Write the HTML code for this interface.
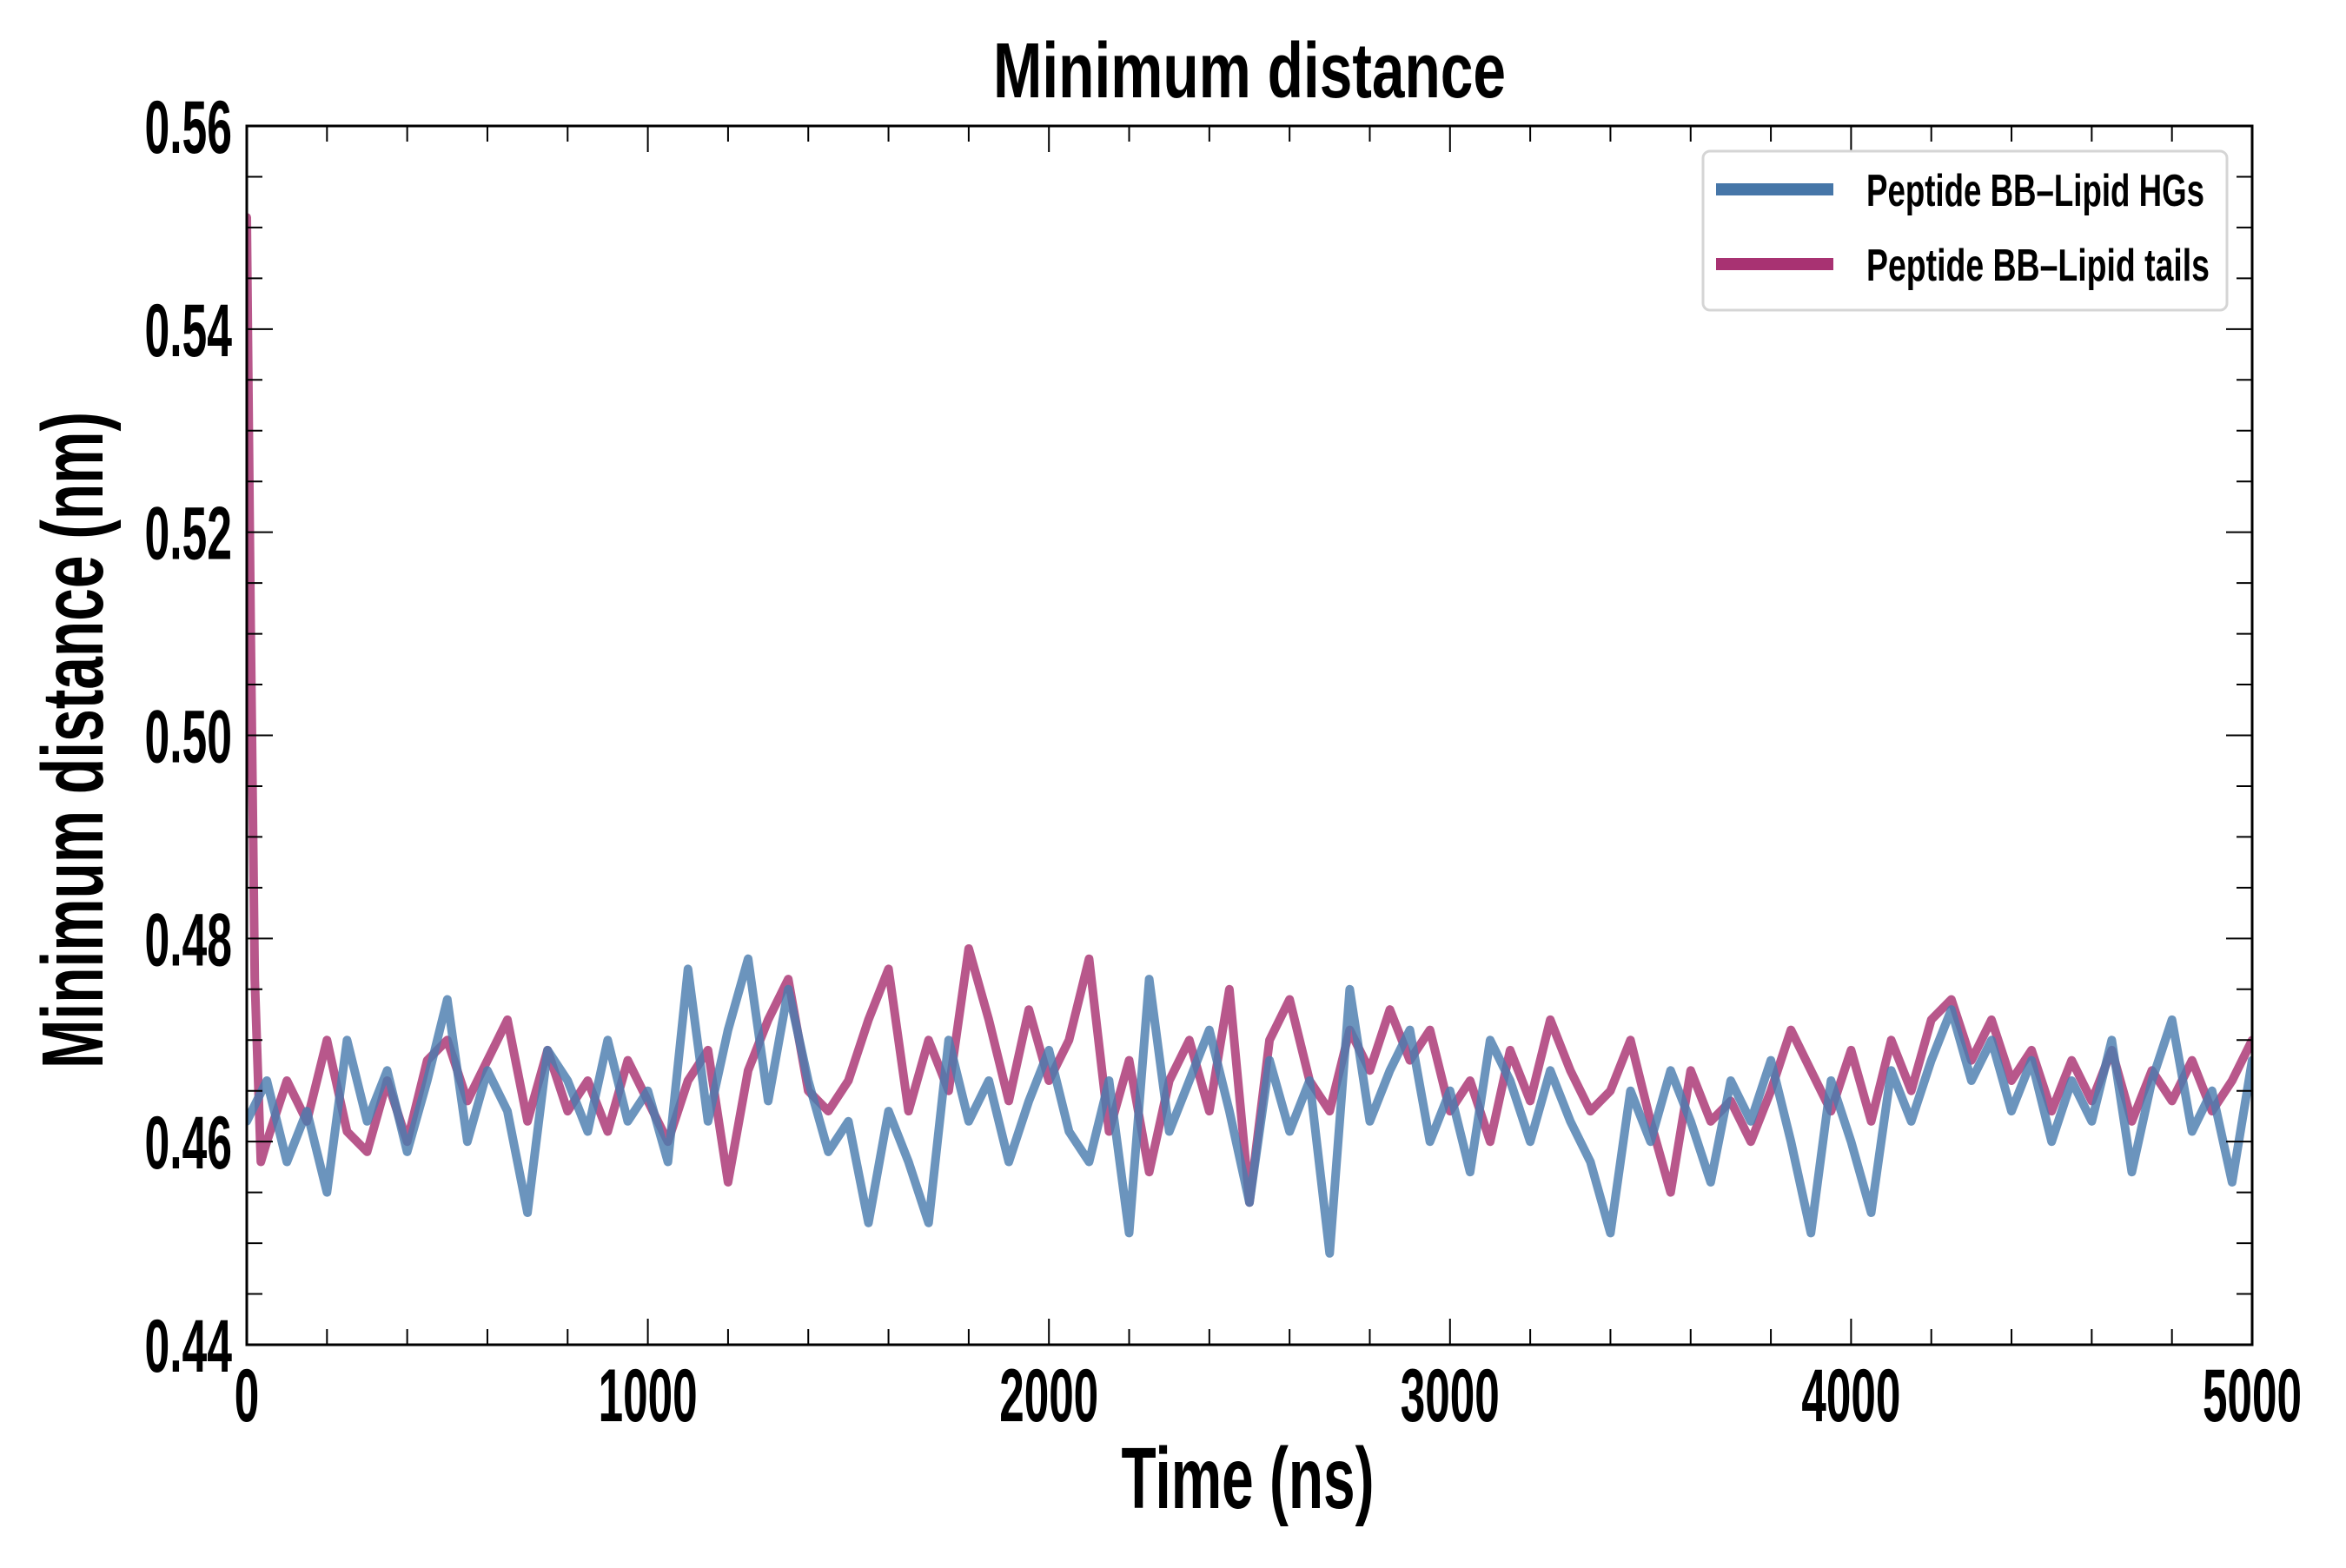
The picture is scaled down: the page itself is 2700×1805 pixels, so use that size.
<!DOCTYPE html>
<html><head><meta charset="utf-8"><style>
html,body{margin:0;padding:0;background:#fff;}
svg text{font-family:"Liberation Sans",sans-serif;font-weight:bold;fill:#000;}
</style></head><body>
<svg id="chart" width="2700" height="1800" viewBox="0 0 2700 1800" xmlns="http://www.w3.org/2000/svg">
<rect width="2700" height="1800" fill="#fff"/>
<g id="plot"></g>
<text x="1438" y="112" font-size="90" text-anchor="middle" textLength="590" lengthAdjust="spacingAndGlyphs">Minimum distance</text>
<text x="1436" y="1736" font-size="100" text-anchor="middle" textLength="291" lengthAdjust="spacingAndGlyphs">Time (ns)</text>
<text transform="translate(118,852) rotate(-90)" font-size="100" text-anchor="middle" textLength="756" lengthAdjust="spacingAndGlyphs">Minimum distance (nm)</text>
<g>
<rect x="1960" y="174" width="603" height="183" rx="8" fill="#fff" stroke="#d5d5d5" stroke-width="3"/>
<g>
<line x1="1975" y1="218" x2="2110" y2="218" stroke="#4676a8" stroke-width="14"/>
<text x="2148" y="237" font-size="52" textLength="389" lengthAdjust="spacingAndGlyphs">Peptide BB–Lipid HGs</text>
</g>
<g>
<line x1="1975" y1="304" x2="2110" y2="304" stroke="#a83272" stroke-width="14"/>
<text x="2148" y="323" font-size="52" textLength="395" lengthAdjust="spacingAndGlyphs">Peptide BB–Lipid tails</text>
</g>
</g>
</svg>
<script>
const xTicks=[0,1000,2000,3000,4000,5000];
const xTickLabels=["0","1000","2000","3000","4000","5000"];
const yTicks=[0.44,0.46,0.48,0.50,0.52,0.54,0.56];
const yTickLabels=["0.44","0.46","0.48","0.50","0.52","0.54","0.56"];
const hgTimes=[0,50,100,150,200,250,300,350,400,450,500,550,600,650,700,750,800,850,900,950,1000,1050,1100,1150,1200,1250,1300,1350,1400,1450,1500,1550,1600,1650,1700,1750,1800,1850,1900,1950,2000,2050,2100,2150,2200,2250,2300,2350,2400,2450,2500,2550,2600,2650,2700,2750,2800,2850,2900,2950,3000,3050,3100,3150,3200,3250,3300,3350,3400,3450,3500,3550,3600,3650,3700,3750,3800,3850,3900,3950,4000,4050,4100,4150,4200,4250,4300,4350,4400,4450,4500,4550,4600,4650,4700,4750,4800,4850,4900,4950,5000];
const hgValues=[0.462,0.466,0.458,0.463,0.455,0.470,0.462,0.467,0.459,0.466,0.474,0.460,0.467,0.463,0.453,0.469,0.466,0.461,0.470,0.462,0.465,0.458,0.477,0.462,0.471,0.478,0.464,0.475,0.466,0.459,0.462,0.452,0.463,0.458,0.452,0.470,0.462,0.466,0.458,0.464,0.469,0.461,0.458,0.466,0.451,0.476,0.461,0.466,0.471,0.463,0.454,0.468,0.461,0.466,0.449,0.475,0.462,0.467,0.471,0.460,0.465,0.457,0.470,0.466,0.460,0.467,0.462,0.458,0.451,0.465,0.460,0.467,0.462,0.456,0.466,0.462,0.468,0.460,0.451,0.466,0.460,0.453,0.467,0.462,0.468,0.473,0.466,0.470,0.463,0.468,0.460,0.466,0.462,0.470,0.457,0.466,0.472,0.461,0.465,0.456,0.468];
const tailTimes=[0,10,20,35,50,100,150,200,250,300,350,400,450,500,550,600,650,700,750,800,850,900,950,1000,1050,1100,1150,1200,1250,1300,1350,1400,1450,1500,1550,1600,1650,1700,1750,1800,1850,1900,1950,2000,2050,2100,2150,2200,2250,2300,2350,2400,2450,2500,2550,2600,2650,2700,2750,2800,2850,2900,2950,3000,3050,3100,3150,3200,3250,3300,3350,3400,3450,3500,3550,3600,3650,3700,3750,3800,3850,3900,3950,4000,4050,4100,4150,4200,4250,4300,4350,4400,4450,4500,4550,4600,4650,4700,4750,4800,4850,4900,4950,5000];
const tailValues=[0.551,0.510,0.476,0.458,0.460,0.466,0.462,0.470,0.461,0.459,0.466,0.460,0.468,0.470,0.464,0.468,0.472,0.462,0.469,0.463,0.466,0.461,0.468,0.464,0.460,0.466,0.469,0.456,0.467,0.472,0.476,0.465,0.463,0.466,0.472,0.477,0.463,0.470,0.465,0.479,0.472,0.464,0.473,0.466,0.470,0.478,0.461,0.468,0.457,0.466,0.470,0.463,0.475,0.454,0.470,0.474,0.466,0.463,0.471,0.467,0.473,0.468,0.471,0.463,0.466,0.460,0.469,0.464,0.472,0.467,0.463,0.465,0.470,0.462,0.455,0.467,0.462,0.464,0.460,0.465,0.471,0.467,0.463,0.469,0.462,0.470,0.465,0.472,0.474,0.468,0.472,0.466,0.469,0.463,0.468,0.464,0.469,0.462,0.467,0.464,0.468,0.463,0.466,0.470];

const L=284,R=2592,T=145,B=1548;
const xS=t=>L+(t-0)/(5000-0)*(R-L);
const yS=v=>B-(v-0.44)/(0.56-0.44)*(B-T);
const NS="http://www.w3.org/2000/svg";
const plot=document.getElementById('plot');
function mk(tag,attrs){const e=document.createElementNS(NS,tag);for(const k in attrs)e.setAttribute(k,attrs[k]);return e;}
function labelWidth(s){let w=0;for(const c of s)w+=(c==='.')?15:28.5;return w;}

const clip=mk('clipPath',{id:'clp'});clip.appendChild(mk('rect',{x:L,y:T,width:R-L,height:B-T}));plot.appendChild(clip);
const g=mk('g',{'clip-path':'url(#clp)'});
plot.appendChild(g);
function seriesG(times,vals,color,name){
  const d=times.map((t,i)=>(i?'L':'M')+xS(t).toFixed(1)+','+yS(vals[i]).toFixed(1)).join('');
  const p=mk('path',{d:d,fill:'none',stroke:color,'stroke-width':10,'stroke-linejoin':'round','stroke-linecap':'round',opacity:0.82});
  
  
  g.appendChild(p);
}
seriesG(tailTimes,tailValues,'#a83272','line-lipid-tails');
seriesG(hgTimes,hgValues,'#4a7cae','line-lipid-hgs');

const fr=mk('rect',{x:L,y:T,width:R-L,height:B-T,fill:'none',stroke:'#000','stroke-width':3});


plot.appendChild(fr);

for(let t=0;t<=5000;t+=200){
  const major=t%1000===0;const len=major?30:18;const x=xS(t);
  plot.appendChild(mk('line',{x1:x,y1:B,x2:x,y2:B-len,stroke:'#000','stroke-width':2}));
  plot.appendChild(mk('line',{x1:x,y1:T,x2:x,y2:T+len,stroke:'#000','stroke-width':2}));
}
for(let k=0;k<=24;k++){
  const v=0.44+k*0.005;const major=k%4===0;const len=major?30:18;const y=yS(v);
  plot.appendChild(mk('line',{x1:L,y1:y,x2:L+len,y2:y,stroke:'#000','stroke-width':2}));
  plot.appendChild(mk('line',{x1:R,y1:y,x2:R-len,y2:y,stroke:'#000','stroke-width':2}));
}
xTicks.forEach((t,i)=>{
  const tx=mk('text',{x:xS(t),y:1636,'font-size':86,'text-anchor':'middle',textLength:labelWidth(xTickLabels[i]),lengthAdjust:'spacingAndGlyphs'});
  tx.textContent=xTickLabels[i];
  
  
  plot.appendChild(tx);
});
yTicks.forEach((v,i)=>{
  const tx=mk('text',{x:267,y:yS(v)+31,'font-size':86,'text-anchor':'end',textLength:labelWidth(yTickLabels[i]),lengthAdjust:'spacingAndGlyphs'});
  tx.textContent=yTickLabels[i];
  
  
  plot.appendChild(tx);
});
</script>
</body></html>
